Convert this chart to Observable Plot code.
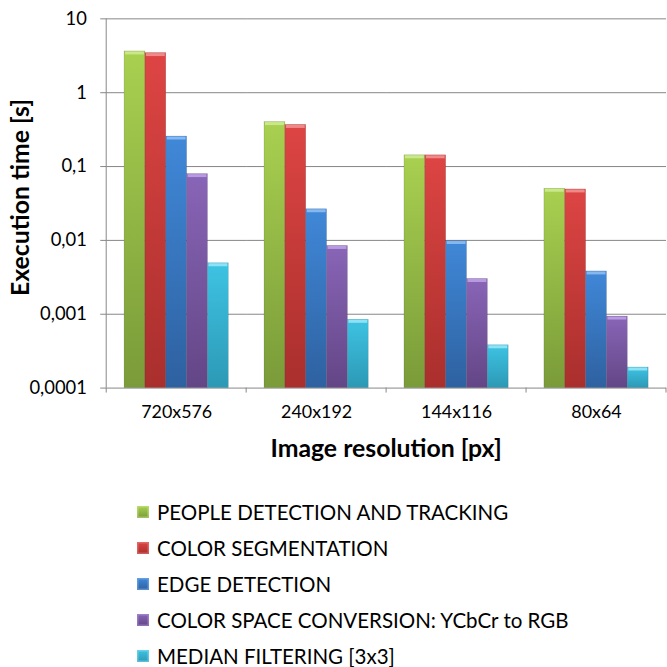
<!DOCTYPE html>
<html><head><meta charset="utf-8">
<script src="https://cdn.jsdelivr.net/npm/d3@7"></script>
<script src="https://cdn.jsdelivr.net/npm/@observablehq/plot@0.6"></script>
<style>
html,body{margin:0;padding:0;background:#fff;overflow:hidden;width:667px;height:667px;}
#chart{position:absolute;left:0;top:0;}
#legend{position:absolute;left:137px;top:494px;font-family:Lato,sans-serif;font-size:20.5px;color:#000;}
.item{height:36px;display:flex;align-items:center;white-space:nowrap;}
.sw{width:12px;height:12px;margin-right:8px;flex:none;}
</style></head><body>
<div id="chart"></div><div id="legend"></div>
<script>
const resolutions = ["720x576", "240x192", "144x116", "80x64"];
const seriesNames = [
  "PEOPLE DETECTION AND TRACKING",
  "COLOR SEGMENTATION",
  "EDGE DETECTION",
  "COLOR SPACE CONVERSION: YCbCr to RGB",
  "MEDIAN FILTERING [3x3]"
];
const peopleDetection = [3.62, 0.40, 0.142, 0.050];
const colorSegmentation = [3.44, 0.366, 0.142, 0.049];
const edgeDetection = [0.255, 0.0264, 0.0098, 0.0038];
const colorSpaceConversion = [0.079, 0.0084, 0.0030, 0.00093];
const medianFiltering = [0.0049, 0.00084, 0.00038, 0.00019];
const yTicks = [0.0001, 0.001, 0.01, 0.1, 1, 10];
const yTickLabels = ["0,0001", "0,001", "0,01", "0,1", "1", "10"];
const xTitle = "Image resolution [px]";
const yTitle = "Execution time [s]";

const topColors = ["#a9d050", "#dd4543", "#4088d8", "#8965b7", "#3ec3e2"];
const bottomColors = ["#7a9b39", "#a92f2d", "#2e61a0", "#634686", "#2c99b6"];
const capColors = ["#c8e88a", "#f08a88", "#86b8f0", "#b89ae0", "#8ee2f5"];

const seriesValues = [peopleDetection, colorSegmentation, edgeDetection, colorSpaceConversion, medianFiltering];
const rows = [];
seriesNames.forEach((s, si) => resolutions.forEach((r, ri) => rows.push({res: r, series: s, value: seriesValues[si][ri]})));

const plot = Plot.plot({
  width: 672, height: 470,
  marginLeft: 106, marginRight: 0, marginTop: 18.5, marginBottom: 79.5,
  style: {fontFamily: "Lato, sans-serif", fontSize: "18px", color: "#000", background: "#fff", overflow: "visible"},
  fx: {domain: resolutions, padding: 0, label: null},
  x: {domain: seriesNames, paddingInner: 0, paddingOuter: 0.745, axis: null},
  y: {type: "log", domain: [yTicks[0], yTicks[yTicks.length - 1]], label: null},
  color: {domain: seriesNames, range: seriesNames.map((_, i) => `url(#grad${i})`)},
  marks: [
    Plot.ruleY(yTicks, {stroke: "#868686", strokeWidth: 1}),
    Plot.axisY({ticks: yTicks, tickFormat: d => yTickLabels[yTicks.indexOf(d)], tickSize: 6, tickPadding: 14,
                fontSize: 18.5, stroke: "#868686", fill: "#000", label: null}),
    Plot.axisFx({anchor: "bottom", tickSize: 0, tickPadding: 17, fontSize: 18, label: null}),
    Plot.barY(rows, {fx: "res", x: "series", y1: yTicks[0], y2: "value", fill: "series", stroke: "#00000030", strokeWidth: 0.6}),
    ...seriesNames.map((s, i) => Plot.tickY(rows.filter(d => d.series === s), {fx: "res", x: "series", y: "value", stroke: capColors[i], strokeWidth: 3, dy: 1.5, inset: 1}))
  ]
});
document.getElementById("chart").appendChild(plot);

const svg = d3.select(plot);
const defs = svg.insert("defs", ":first-child");
seriesNames.forEach((s, i) => {
  const g = defs.append("linearGradient").attr("id", `grad${i}`).attr("x1", 0).attr("y1", 0).attr("x2", 0).attr("y2", 1);
  g.append("stop").attr("offset", 0).attr("stop-color", topColors[i]);
  g.append("stop").attr("offset", 1).attr("stop-color", bottomColors[i]);
});

const fx = plot.scale("fx"), y = plot.scale("y");
const y0 = y.apply(yTicks[0]), yTop = y.apply(yTicks[yTicks.length - 1]);
const xLeft = fx.apply(resolutions[0]);
const bw = fx.bandwidth;
const xRight = fx.apply(resolutions[resolutions.length - 1]) + bw;
svg.append("line").attr("x1", xLeft).attr("x2", xLeft).attr("y1", yTop).attr("y2", y0).attr("stroke", "#868686");
[...resolutions.map(r => fx.apply(r)), xRight].forEach(xx => {
  svg.append("line").attr("x1", xx).attr("x2", xx).attr("y1", y0).attr("y2", y0 + 5).attr("stroke", "#868686");
});

svg.append("text").text(xTitle)
  .attr("x", (xLeft + xRight) / 2).attr("y", 460)
  .attr("text-anchor", "middle").attr("font-weight", "bold").attr("font-size", 25).attr("fill", "#000");
svg.append("text").text(yTitle)
  .attr("transform", `translate(29, 199) rotate(-90)`)
  .attr("text-anchor", "middle").attr("font-weight", "bold").attr("font-size", 25).attr("fill", "#000");

const legend = d3.select("#legend");
seriesNames.forEach((s, i) => {
  const it = legend.append("div").attr("class", "item");
  it.append("div").attr("class", "sw").style("background", `linear-gradient(${topColors[i]}, ${bottomColors[i]})`).style("box-shadow", `inset 0 0 0 1.5px ${capColors[i]}80`);
  it.append("span").text(s);
});
</script>
</body></html>
